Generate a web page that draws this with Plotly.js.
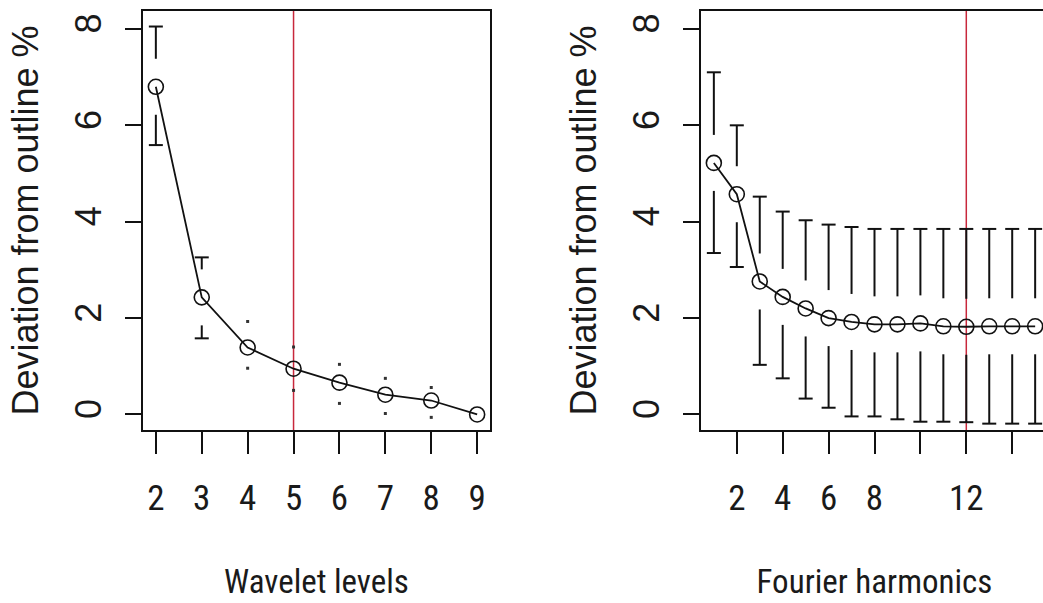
<!DOCTYPE html>
<html>
<head>
<meta charset="utf-8">
<script src="https://cdn.plot.ly/plotly-3.0.1.min.js"></script>
<style>
html,body{margin:0;padding:0;overflow:hidden;background:#fff;}
#chart{width:1060px;height:603px;}
</style>
</head>
<body>
<div id="chart"></div>
<script>
// ---- data ----
const waveLevels = [2, 3, 4, 5, 6, 7, 8, 9];
const waveMean   = [6.8, 2.43, 1.39, 0.95, 0.66, 0.41, 0.29, 0.0];
const waveUpper  = [8.05, 3.26, 1.93, 1.40, 1.04, 0.75, 0.56, 0.0];
const waveLower  = [5.59, 1.58, 0.96, 0.50, 0.23, 0.02, -0.06, 0.0];

const harmonics    = [1, 2, 3, 4, 5, 6, 7, 8, 9, 10, 11, 12, 13, 14, 15];
const fourierMean  = [5.22, 4.57, 2.76, 2.44, 2.20, 2.00, 1.92, 1.87, 1.87, 1.89, 1.83, 1.82, 1.83, 1.83, 1.83];
const fourierUpper = [7.10, 6.00, 4.52, 4.21, 4.03, 3.94, 3.89, 3.85, 3.85, 3.85, 3.85, 3.85, 3.85, 3.85, 3.85];
const fourierLower = [3.35, 3.06, 1.03, 0.75, 0.33, 0.14, -0.04, -0.04, -0.10, -0.15, -0.15, -0.16, -0.19, -0.19, -0.19];

const chosenLevel = 5;
const chosenHarmonic = 12;

const waveTickVals = [2, 3, 4, 5, 6, 7, 8, 9];
const waveTickText = ['2', '3', '4', '5', '6', '7', '8', '9'];
const fourierTickVals = [2, 4, 6, 8, 10, 12, 14];
const fourierTickText = ['2', '4', '6', '8', '', '12', ''];
const yTickVals = [0, 2, 4, 6, 8];

const xTitleLeft = 'Wavelet levels';
const xTitleRight = 'Fourier harmonics';
const yTitle = 'Deviation from outline %';

// ---- layout geometry ----
const W = 1060, H = 603;
const plotTop = 11, plotBottom = 430;
const leftPx = [143, 490], rightPx = [701, 1048];
const gapPx = 28, capPx = 7;

function padRange(lo, hi) { const s = hi - lo; return [lo - 0.04 * s, hi + 0.04 * s]; }
const yRange = padRange(0, Math.max(...waveUpper));
const xRangeL = padRange(Math.min(...waveLevels), Math.max(...waveLevels));
const xRangeR = padRange(Math.min(...harmonics), Math.max(...harmonics));

const pxPerY = (plotBottom - plotTop) / (yRange[1] - yRange[0]);
const gapY = gapPx / pxPerY;
const capL = capPx / ((leftPx[1] - leftPx[0]) / (xRangeL[1] - xRangeL[0]));
const capR = capPx / ((rightPx[1] - rightPx[0]) / (xRangeR[1] - xRangeR[0]));

function bars(xs, mean, up, lo, cap) {
  const sx = [], sy = [], dx = [], dy = [];
  xs.forEach((x, i) => {
    const m = mean[i];
    if (up[i] > m + gapY) {
      sx.push(x, x, null, x - cap, x + cap, null);
      sy.push(m + gapY, up[i], null, up[i], up[i], null);
    } else if (up[i] > m) { dx.push(x); dy.push(up[i]); }
    if (lo[i] < m - gapY) {
      sx.push(x, x, null, x - cap, x + cap, null);
      sy.push(m - gapY, lo[i], null, lo[i], lo[i], null);
    } else if (lo[i] < m) { dx.push(x); dy.push(lo[i]); }
  });
  return {sx, sy, dx, dy};
}

const bL = bars(waveLevels, waveMean, waveUpper, waveLower, capL);
const bR = bars(harmonics, fourierMean, fourierUpper, fourierLower, capR);

const black = '#111';
function barTrace(b, xa, ya) {
  return {x: b.sx, y: b.sy, xaxis: xa, yaxis: ya, mode: 'lines', type: 'scatter',
          line: {color: black, width: 2}, hoverinfo: 'skip', showlegend: false};
}
function dotTrace(b, xa, ya) {
  return {x: b.dx, y: b.dy, xaxis: xa, yaxis: ya, mode: 'markers', type: 'scatter',
          marker: {color: '#333', size: 3, symbol: 'square'}, hoverinfo: 'skip', showlegend: false};
}
function mainTrace(xs, ys, xa, ya) {
  return {x: xs, y: ys, xaxis: xa, yaxis: ya, mode: 'lines+markers', type: 'scatter',
          line: {color: black, width: 1.8},
          marker: {symbol: 'circle-open', size: 15, color: black, line: {width: 1.6, color: black}},
          showlegend: false};
}

const data = [
  barTrace(bL, 'x', 'y'), dotTrace(bL, 'x', 'y'), mainTrace(waveLevels, waveMean, 'x', 'y'),
  barTrace(bR, 'x2', 'y2'), mainTrace(harmonics, fourierMean, 'x2', 'y2')
];

const yFont = {family: 'Liberation Sans, Arial, sans-serif', size: 36, color: '#1a1a1a'};
const xTickFont = {family: 'Roboto Condensed, Liberation Sans, sans-serif', size: 35, color: '#1a1a1a'};
const xTitleFont = {family: 'Roboto Condensed, Liberation Sans, sans-serif', size: 33, color: '#1a1a1a'};

const yDom = [1 - plotBottom / H, 1 - plotTop / H];
function xAxis(domain, range, tv, tt, title, anchor) {
  return {domain, range, anchor, tickmode: 'array', tickvals: tv, ticktext: tt,
          showline: true, mirror: true, linecolor: black, linewidth: 2,
          ticks: 'outside', ticklen: 22, tickwidth: 2, tickcolor: black,
          showgrid: false, zeroline: false, tickfont: xTickFont, ticklabelstandoff: 14,
          title: {text: title, font: xTitleFont, standoff: 52}, automargin: false, fixedrange: true};
}
function yAxis(anchor) {
  return {domain: yDom, range: yRange, anchor, tickmode: 'array', tickvals: yTickVals,
          showline: true, mirror: true, linecolor: black, linewidth: 2,
          ticks: 'outside', ticklen: 16, tickwidth: 2, tickcolor: black,
          showgrid: false, zeroline: false, tickfont: yFont, tickangle: -90, ticklabelstandoff: 10,
          title: {text: yTitle, font: yFont, standoff: 18}, automargin: false, fixedrange: true};
}

const layout = {
  width: W, height: H,
  margin: {l: 0, r: 0, t: 0, b: 0},
  paper_bgcolor: '#fff', plot_bgcolor: '#fff',
  showlegend: false,
  xaxis: xAxis([leftPx[0] / W, leftPx[1] / W], xRangeL, waveTickVals, waveTickText, xTitleLeft, 'y'),
  yaxis: yAxis('x'),
  xaxis2: xAxis([rightPx[0] / W, rightPx[1] / W], xRangeR, fourierTickVals, fourierTickText, xTitleRight, 'y2'),
  yaxis2: yAxis('x2'),
  shapes: [
    {type: 'line', xref: 'x', yref: 'y domain', x0: chosenLevel, x1: chosenLevel, y0: 0, y1: 1,
     line: {color: '#c8283c', width: 1.5}, layer: 'below'},
    {type: 'line', xref: 'x2', yref: 'y2 domain', x0: chosenHarmonic, x1: chosenHarmonic, y0: 0, y1: 1,
     line: {color: '#c8283c', width: 1.5}, layer: 'below'}
  ]
};

Plotly.newPlot('chart', data, layout, {staticPlot: true, displayModeBar: false});
</script>
</body>
</html>
